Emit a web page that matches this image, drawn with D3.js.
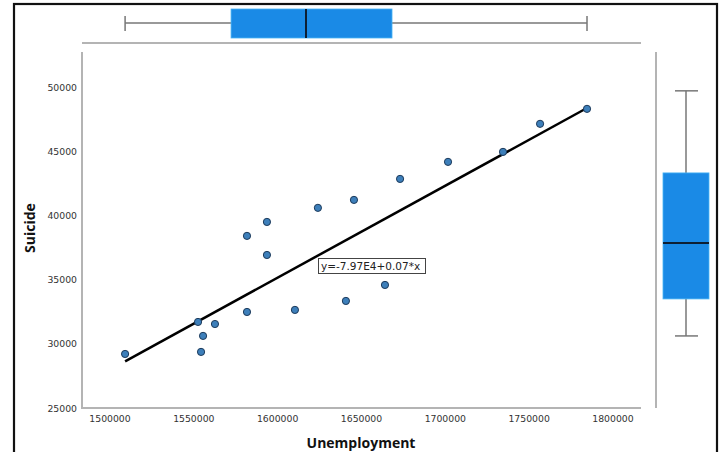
<!DOCTYPE html>
<html>
<head>
<meta charset="utf-8">
<title>Suicide vs Unemployment</title>
<style>
    body {
        margin: 0;
        background-color: white;
    }
    svg {
        display: block;
    }
    .tick-label {
        font-family: "DejaVu Sans", sans-serif;
        font-size: 9.3px;
        fill: #333;
    }
    .axis-title {
        font-family: "Open Sans", sans-serif;
        font-weight: bold;
        font-size: 14px;
        fill: #111;
    }
    .frame-line {
        stroke: #b4b4b4;
        stroke-width: 2px;
    }
    .whisker {
        stroke: #777;
        stroke-width: 1.5px;
    }
</style>
</head>
<body>
<svg id="chart" width="720" height="452"></svg>
<script src="https://cdn.jsdelivr.net/npm/d3@7"></script>
<script>
// data
var unemployment = [1509000, 1552500, 1555500, 1554300, 1562600, 1581700, 1610300, 1593600, 1581700, 1593600,
    1624000, 1645500, 1640700, 1664000, 1673000, 1701600, 1734400, 1756500, 1784500];
var suicide = [29220, 31720, 30630, 29380, 31560, 32500, 32660, 36950, 38440, 39530,
    40630, 41250, 33360, 34610, 42890, 44220, 45000, 47190, 48360];

var xTicks = [1500000, 1550000, 1600000, 1650000, 1700000, 1750000, 1800000];
var yTicks = [25000, 30000, 35000, 40000, 45000, 50000];

// marginal box plots (min, q1, median, q3, max)
var xBox = [1509000, 1572200, 1616900, 1668200, 1784500];
var yBox = [29300, 32190, 36560, 42030, 48440];

// fit line shown in the label
var fitIntercept = -79700;
var fitSlope = 0.0718;
var fitLabel = "y=-7.97E4+0.07*x";

var svg = d3.select("#chart");

var x = d3.scaleLinear().domain([1483300, 1816700]).range([82, 641]);
var y = d3.scaleLinear().domain([25000, 52800]).range([408, 52]);
// the right box plot sits a little higher than the scatter
var yB = d3.scaleLinear().domain([25000, 52800]).range([391, 35]);

// outer frame
svg.append("rect")
    .attr("x", 14).attr("y", 4)
    .attr("width", 703).attr("height", 470)
    .attr("fill", "none")
    .attr("stroke", "#111")
    .attr("stroke-width", 2.2);

// plot frame lines
svg.append("line").attr("class", "frame-line")
    .attr("x1", 82).attr("x2", 641).attr("y1", 43).attr("y2", 43);
svg.append("line").attr("class", "frame-line")
    .attr("x1", 82).attr("x2", 82).attr("y1", 52).attr("y2", 408);
svg.append("line").attr("class", "frame-line")
    .attr("x1", 81).attr("x2", 641).attr("y1", 408).attr("y2", 408);
svg.append("line").attr("class", "frame-line")
    .attr("x1", 656).attr("x2", 656).attr("y1", 52).attr("y2", 408);

// tick labels
svg.selectAll(".xt")
    .data(xTicks)
    .enter().append("text")
    .attr("class", "tick-label")
    .attr("x", function(d) { return x(d); })
    .attr("y", 422)
    .attr("text-anchor", "middle")
    .text(function(d) { return d; });

svg.selectAll(".yt")
    .data(yTicks)
    .enter().append("text")
    .attr("class", "tick-label")
    .attr("x", 77)
    .attr("y", function(d) { return y(d) + 3.5; })
    .attr("text-anchor", "end")
    .text(function(d) { return d; });

// axis titles
svg.append("text")
    .attr("class", "axis-title")
    .attr("x", 361).attr("y", 448)
    .attr("text-anchor", "middle")
    .text("Unemployment");

svg.append("text")
    .attr("class", "axis-title")
    .attr("transform", "translate(35,228) rotate(-90)")
    .attr("text-anchor", "middle")
    .text("Suicide");

// top box plot
var topBox = svg.append("g");
topBox.append("line").attr("class", "whisker")
    .attr("x1", x(xBox[0])).attr("x2", x(xBox[4])).attr("y1", 23).attr("y2", 23);
topBox.selectAll(".cap")
    .data([xBox[0], xBox[4]])
    .enter().append("line").attr("class", "whisker")
    .attr("x1", function(d) { return x(d); }).attr("x2", function(d) { return x(d); })
    .attr("y1", 16).attr("y2", 31);
topBox.append("rect")
    .attr("x", x(xBox[1])).attr("y", 9)
    .attr("width", x(xBox[3]) - x(xBox[1])).attr("height", 29)
    .attr("fill", "#1a8ae6")
    .attr("stroke", "#49b4f5").attr("stroke-width", 0.8);
topBox.append("line")
    .attr("x1", x(xBox[2])).attr("x2", x(xBox[2])).attr("y1", 9).attr("y2", 38)
    .attr("stroke", "#0d1f33").attr("stroke-width", 2);

// right box plot
var rightBox = svg.append("g");
rightBox.append("line").attr("class", "whisker")
    .attr("x1", 686).attr("x2", 686).attr("y1", yB(yBox[0])).attr("y2", yB(yBox[4]));
rightBox.selectAll(".cap")
    .data([yBox[0], yBox[4]])
    .enter().append("line").attr("class", "whisker")
    .attr("x1", 675).attr("x2", 698)
    .attr("y1", function(d) { return yB(d); }).attr("y2", function(d) { return yB(d); });
rightBox.append("rect")
    .attr("x", 663).attr("y", yB(yBox[3]))
    .attr("width", 46).attr("height", yB(yBox[1]) - yB(yBox[3]))
    .attr("fill", "#1a8ae6")
    .attr("stroke", "#49b4f5").attr("stroke-width", 0.8);
rightBox.append("line")
    .attr("x1", 663).attr("x2", 709).attr("y1", yB(yBox[2])).attr("y2", yB(yBox[2]))
    .attr("stroke", "#0d1f33").attr("stroke-width", 2);

// fit line
var xMin = d3.min(unemployment), xMax = d3.max(unemployment);
svg.append("line")
    .attr("x1", x(xMin)).attr("y1", y(fitIntercept + fitSlope * xMin))
    .attr("x2", x(xMax)).attr("y2", y(fitIntercept + fitSlope * xMax))
    .attr("stroke", "#000")
    .attr("stroke-width", 2.5);

// points
svg.append("g")
    .selectAll("circle")
    .data(unemployment)
    .enter().append("circle")
    .attr("cx", function(d) { return x(d); })
    .attr("cy", function(d, i) { return y(suicide[i]); })
    .attr("r", 3.6)
    .attr("fill", "#3d7fba")
    .attr("stroke", "#1d3a5a")
    .attr("stroke-width", 1);

// fit label
var lab = svg.append("g");
lab.append("rect")
    .attr("x", 318.5).attr("y", 258.5)
    .attr("width", 107).attr("height", 15)
    .attr("fill", "white")
    .attr("stroke", "#444").attr("stroke-width", 1);
lab.append("text")
    .attr("x", 321).attr("y", 270)
    .style("font-family", "DejaVu Sans, sans-serif")
    .style("font-size", "10.5px")
    .style("fill", "#222")
    .text(fitLabel);
</script>
</body>
</html>
